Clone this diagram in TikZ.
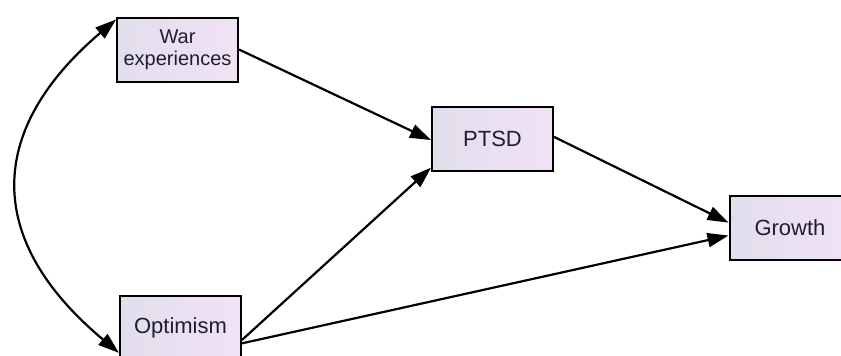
\documentclass[tikz,border=0pt]{standalone}
\usepackage{fontspec}
\setmainfont{Liberation Sans}
\usetikzlibrary{arrows.meta}
\definecolor{boxl}{RGB}{226,222,236}
\definecolor{boxr}{RGB}{240,226,244}
\definecolor{txt}{RGB}{30,30,50}
\begin{document}
\begin{tikzpicture}[x=1pt,y=-1pt,
  var/.style={draw=black,line width=2pt,left color=boxl,right color=boxr,
    minimum width=121pt,minimum height=64pt,inner sep=0pt,align=center,
    text=txt,font=\fontsize{22}{24}\selectfont},
  path/.style={line width=2.2pt,-{Triangle[length=21pt,width=14pt]}},
  cov/.style={line width=2.2pt,{Triangle[length=21pt,width=14pt]}-{Triangle[length=21pt,width=14pt]}}]
\useasboundingbox (0,0) rectangle (841,356);
\clip (0,0) rectangle (841,356);
\fill[white] (0,0) rectangle (841,356);
\node[var,font=\fontsize{20}{22.5}\selectfont] (war) at (177.5,49.5) {War\\experiences};
\node[var] (opt) at (180.5,328) {Optimism};
\node[var] (ptsd) at (492.5,139) {PTSD};
\node[var] (gro) at (790,228) {Growth};
\draw[cov] (war.154) .. controls (-15,131) and (-15,241) .. (opt.202);
\draw[path] (war.east) -- (ptsd.181);
\draw[path] (opt.349) -- (ptsd.205);
\draw[path] (ptsd.2) -- (gro.175);
\draw[path] (opt.346) -- (gro.187);
\end{tikzpicture}
\end{document}
